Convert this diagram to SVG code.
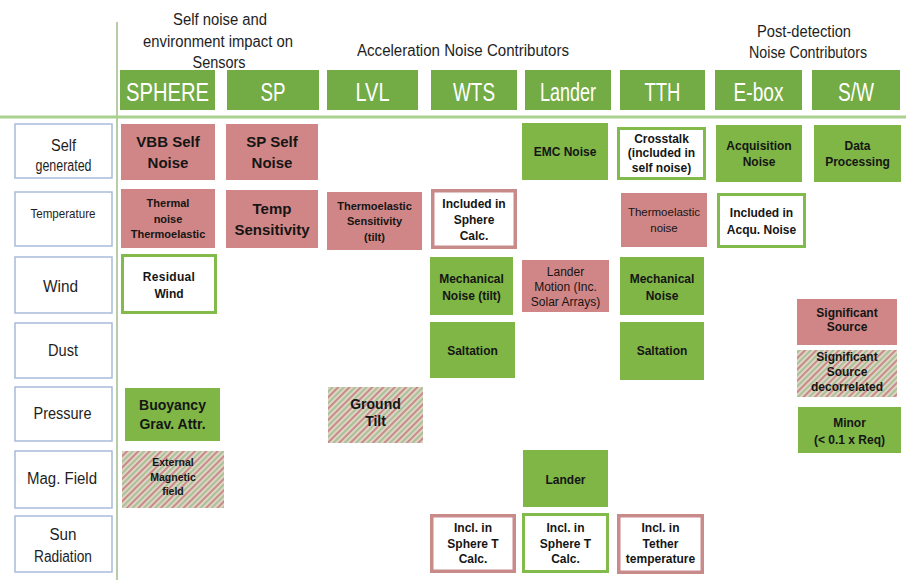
<svg xmlns="http://www.w3.org/2000/svg" width="914" height="580" viewBox="0 0 914 580">
<style>
text{font-family:"Liberation Sans",Arial,sans-serif;text-anchor:middle;fill:#151515}
.ttl{font-size:16px;fill:#1e1e1e}
.hdr rect{fill:#73ab45}
.hdr text{font-size:25px;fill:#ffffff}
.lab rect{fill:#ffffff;stroke:#a9badb;stroke-width:1.5}
.lab text{font-size:16px;fill:#1e1e1e}
.red{fill:#d08686}
.grn{fill:#7fb646}
.wr{fill:#ffffff;stroke:#c98a8a;stroke-width:3.5}
.wg{fill:#ffffff;stroke:#82ba4b;stroke-width:3}
.hat{fill:url(#hatch)}
.b{font-weight:bold}
.f15{font-size:15px}.f14{font-size:14px}.f12{font-size:12px}.f125{font-size:12px}.f11{font-size:11px}.f10{font-size:10.5px}
</style>
<defs>
<pattern id="hatch" width="8" height="8" patternUnits="userSpaceOnUse" patternTransform="rotate(45)">
<rect width="8" height="8" fill="#dcd5c6"/>
<rect x="0" width="1.8" height="8" fill="#c98282"/>
<rect x="4" width="1.8" height="8" fill="#a5bf90"/>
</pattern>
</defs>
<rect width="914" height="580" fill="#ffffff"/>

<g id="grid-lines">
<line x1="117" y1="22" x2="117" y2="580" stroke="#b9cca8" stroke-width="2"/>
<line x1="0" y1="117" x2="906" y2="117" stroke="#a9d08e" stroke-width="3"/>
</g>

<g id="titles">
<text class="ttl" x="220" y="25" textLength="94" lengthAdjust="spacingAndGlyphs">Self noise and</text>
<text class="ttl" x="218" y="47" textLength="150" lengthAdjust="spacingAndGlyphs">environment impact on</text>
<text class="ttl" x="219" y="68" textLength="53" lengthAdjust="spacingAndGlyphs">Sensors</text>
<text class="ttl" x="463" y="56" textLength="212" lengthAdjust="spacingAndGlyphs">Acceleration Noise Contributors</text>
<text class="ttl" x="804" y="37" textLength="94" lengthAdjust="spacingAndGlyphs">Post-detection</text>
<text class="ttl" x="808" y="58" textLength="118" lengthAdjust="spacingAndGlyphs">Noise Contributors</text>
</g>

<g id="hdr-sphere" class="hdr"><rect x="120" y="70" width="95" height="40"/><text x="167.5" y="101" textLength="83" lengthAdjust="spacingAndGlyphs">SPHERE</text></g>
<g id="hdr-sp" class="hdr"><rect x="227" y="70" width="92" height="40"/><text x="273" y="101" textLength="25" lengthAdjust="spacingAndGlyphs">SP</text></g>
<g id="hdr-lvl" class="hdr"><rect x="327" y="70" width="91" height="40"/><text x="372.5" y="101" textLength="34" lengthAdjust="spacingAndGlyphs">LVL</text></g>
<g id="hdr-wts" class="hdr"><rect x="431" y="70" width="86" height="40"/><text x="474" y="101" textLength="42" lengthAdjust="spacingAndGlyphs">WTS</text></g>
<g id="hdr-lander" class="hdr"><rect x="525" y="70" width="86" height="40"/><text x="568" y="101" textLength="56" lengthAdjust="spacingAndGlyphs">Lander</text></g>
<g id="hdr-tth" class="hdr"><rect x="620" y="70" width="85" height="40"/><text x="662.5" y="101" textLength="36" lengthAdjust="spacingAndGlyphs">TTH</text></g>
<g id="hdr-ebox" class="hdr"><rect x="715" y="70" width="87" height="40"/><text x="758.5" y="101" textLength="50" lengthAdjust="spacingAndGlyphs">E-box</text></g>
<g id="hdr-sw" class="hdr"><rect x="812" y="70" width="88" height="40"/><text x="856" y="101" textLength="36" lengthAdjust="spacingAndGlyphs">S/W</text></g>

<g id="lab-self" class="lab"><rect x="15" y="124" width="97" height="54"/><text x="63.5" y="151" textLength="25" lengthAdjust="spacingAndGlyphs">Self</text><text x="63.5" y="171" textLength="56" lengthAdjust="spacingAndGlyphs">generated</text></g>
<g id="lab-temp" class="lab"><rect x="15" y="192" width="97" height="54"/><text x="63" y="218" style="font-size:13px" textLength="65" lengthAdjust="spacingAndGlyphs">Temperature</text></g>
<g id="lab-wind" class="lab"><rect x="15" y="257" width="97" height="56"/><text x="60.5" y="292" textLength="35" lengthAdjust="spacingAndGlyphs">Wind</text></g>
<g id="lab-dust" class="lab"><rect x="15" y="323" width="97" height="55"/><text x="63" y="356" textLength="30" lengthAdjust="spacingAndGlyphs">Dust</text></g>
<g id="lab-pressure" class="lab"><rect x="15" y="387" width="97" height="54"/><text x="62.5" y="419" textLength="58" lengthAdjust="spacingAndGlyphs">Pressure</text></g>
<g id="lab-mag" class="lab"><rect x="15" y="451" width="97" height="57"/><text x="62" y="484" textLength="70" lengthAdjust="spacingAndGlyphs">Mag. Field</text></g>
<g id="lab-sun" class="lab"><rect x="15" y="516" width="97" height="56"/><text x="63" y="540" textLength="27" lengthAdjust="spacingAndGlyphs">Sun</text><text x="63" y="562" textLength="58" lengthAdjust="spacingAndGlyphs">Radiation</text></g>

<g id="vbb-self-noise"><rect class="red" x="121" y="124" width="94" height="56"/><text class="b f15" x="168" y="147">VBB Self</text><text class="b f15" x="168" y="168">Noise</text></g>
<g id="sp-self-noise"><rect class="red" x="226" y="124" width="92" height="56"/><text class="b f15" x="272" y="147">SP Self</text><text class="b f15" x="272" y="168">Noise</text></g>
<g id="emc-noise"><rect class="grn" x="522" y="123" width="86" height="57"/><text class="b f12" x="565" y="156">EMC Noise</text></g>
<g id="crosstalk"><rect class="wg" x="618.5" y="128.5" width="86" height="50"/><text class="b f12" x="661.5" y="142.5">Crosstalk</text><text class="b f12" x="661.5" y="157">(included in</text><text class="b f12" x="661.5" y="171.5">self noise)</text></g>
<g id="acquisition-noise"><rect class="grn" x="716" y="125" width="86" height="57"/><text class="b f12" x="759" y="150">Acquisition</text><text class="b f12" x="759" y="166">Noise</text></g>
<g id="data-processing"><rect class="grn" x="814" y="125" width="87" height="57"/><text class="b f12" x="857.5" y="150">Data</text><text class="b f12" x="857.5" y="166">Processing</text></g>

<g id="thermal-noise"><rect class="red" x="121" y="189" width="94" height="59"/><text class="b f11" x="168" y="207">Thermal</text><text class="b f11" x="168" y="222.5">noise</text><text class="b f11" x="168" y="238">Thermoelastic</text></g>
<g id="temp-sensitivity"><rect class="red" x="226" y="190" width="92" height="58"/><text class="b f15" x="272" y="213.5">Temp</text><text class="b f15" x="272" y="234.5">Sensitivity</text></g>
<g id="thermoelastic-sensitivity"><rect class="red" x="327" y="192" width="95" height="58"/><text class="b f11" x="374.5" y="209.5">Thermoelastic</text><text class="b f11" x="374.5" y="225">Sensitivity</text><text class="b f11" x="374.5" y="240.5">(tilt)</text></g>
<g id="included-sphere-calc"><rect class="wr" x="432.75" y="190.75" width="82.5" height="56.5"/><text class="b f12" x="474" y="207.5">Included in</text><text class="b f12" x="474" y="223.5">Sphere</text><text class="b f12" x="474" y="239.5">Calc.</text></g>
<g id="thermoelastic-noise"><rect class="red" x="621" y="193" width="86" height="54"/><text style="font-size:11.5px" x="664" y="216">Thermoelastic</text><text style="font-size:11.5px" x="664" y="232">noise</text></g>
<g id="included-acqu-noise"><rect class="wg" x="718.5" y="194.5" width="86" height="52"/><text class="b f12" x="761.5" y="217">Included in</text><text class="b f12" x="761.5" y="234">Acqu. Noise</text></g>

<g id="residual-wind"><rect class="wg" x="122.5" y="255.5" width="93" height="57"/><text class="b f12" x="169" y="281" letter-spacing="0.3">Residual</text><text class="b f12" x="169" y="298">Wind</text></g>
<g id="mechanical-noise-tilt"><rect class="grn" x="430" y="257" width="83" height="58"/><text class="b f12" x="471.5" y="282.5">Mechanical</text><text class="b f12" x="471.5" y="299.5">Noise (tilt)</text></g>
<g id="lander-motion"><rect class="red" x="522" y="260" width="87" height="52"/><text class="f12" x="565.5" y="275.5">Lander</text><text class="f12" x="565.5" y="290.5">Motion (Inc.</text><text class="f12" x="565.5" y="305.5">Solar Arrays)</text></g>
<g id="mechanical-noise"><rect class="grn" x="620" y="257" width="84" height="58"/><text class="b f12" x="662" y="283">Mechanical</text><text class="b f12" x="662" y="300">Noise</text></g>

<g id="saltation-wts"><rect class="grn" x="430" y="322" width="85" height="56"/><text class="b f12" x="472.5" y="355">Saltation</text></g>
<g id="saltation-tth"><rect class="grn" x="620" y="322" width="84" height="58"/><text class="b f12" x="662" y="355">Saltation</text></g>

<g id="legend-significant"><rect class="red" x="797" y="299" width="100" height="46"/><text class="b f125" x="847" y="317">Significant</text><text class="b f125" x="847" y="331">Source</text></g>
<g id="legend-decorrelated"><rect class="hat" x="797" y="350" width="100" height="47"/><text class="b f125" x="847" y="361">Significant</text><text class="b f125" x="847" y="376">Source</text><text class="b f125" x="847" y="391">decorrelated</text></g>
<g id="legend-minor"><rect class="grn" x="798" y="407" width="103" height="46"/><text class="b f12" x="849.5" y="426.5">Minor</text><text class="b f12" x="849.5" y="443.5">(&lt; 0.1 x Req)</text></g>

<g id="buoyancy"><rect class="grn" x="125" y="388" width="95" height="53"/><text class="b f14" x="172.5" y="410">Buoyancy</text><text class="b f14" x="172.5" y="429">Grav. Attr.</text></g>
<g id="ground-tilt"><rect class="hat" x="328" y="387" width="95" height="56"/><text class="b f14" x="375.5" y="409">Ground</text><text class="b f14" x="375.5" y="425.5">Tilt</text></g>

<g id="external-magnetic-field"><rect class="hat" x="122" y="451" width="102" height="57"/><text class="b f10" x="173" y="466">External</text><text class="b f10" x="173" y="480.5">Magnetic</text><text class="b f10" x="173" y="495">field</text></g>
<g id="lander-mag"><rect class="grn" x="523" y="450" width="85" height="57"/><text class="b f12" x="565.5" y="483.5">Lander</text></g>

<g id="incl-sphere-t-wts"><rect class="wr" x="431.75" y="515.75" width="82.5" height="55.5"/><text class="b f12" x="473" y="532">Incl. in</text><text class="b f12" x="473" y="547.5">Sphere T</text><text class="b f12" x="473" y="563">Calc.</text></g>
<g id="incl-sphere-t-lander"><rect class="wg" x="523.5" y="514.5" width="84" height="57"/><text class="b f12" x="565.5" y="532">Incl. in</text><text class="b f12" x="565.5" y="547.5">Sphere T</text><text class="b f12" x="565.5" y="563">Calc.</text></g>
<g id="incl-tether-temp"><rect class="wr" x="618.75" y="515.75" width="83.5" height="56.5"/><text class="b f12" x="660.5" y="532">Incl. in</text><text class="b f12" x="660.5" y="547.5">Tether</text><text class="b f12" x="660.5" y="563">temperature</text></g>
</svg>
